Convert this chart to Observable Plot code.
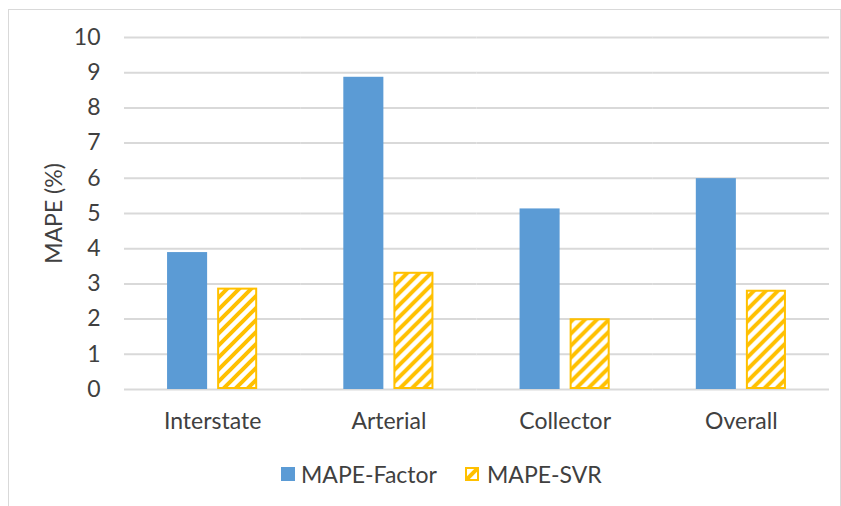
<!DOCTYPE html>
<html>
<head>
<meta charset="utf-8">
<script src="https://cdn.jsdelivr.net/npm/d3@7"></script>
<script src="https://cdn.jsdelivr.net/npm/@observablehq/plot@0.6"></script>
<style>
  body { margin: 0; background: #fff; font-family: Lato, sans-serif; }
  #wrap { position: relative; width: 841px; height: 506px; overflow: hidden; background: #fff; }
  #frame { position: absolute; left: 8px; top: 9px; width: 833px; height: 510px; border: 1px solid #d9d9d9; box-sizing: border-box; }
  #chart { position: absolute; left: 0; top: 0; }
  #legend { position: absolute; left: 281px; top: 460px; display: flex; align-items: center; font-size: 23px; color: #404040; line-height: 28px; white-space: nowrap; }
</style>
</head>
<body>
<svg width="0" height="0" style="position:absolute">
  <defs>
    <pattern id="hatch" patternUnits="userSpaceOnUse" width="12" height="12">
      <rect width="12" height="12" fill="#fff"></rect>
      <path d="M-3,3 L3,-3 M0,12 L12,0 M9,15 L15,9" stroke="#FFC000" stroke-width="4"></path>
    </pattern>
    <pattern id="hatchSmall" patternUnits="userSpaceOnUse" width="14" height="14">
      <rect width="14" height="14" fill="#fff"></rect>
      <path d="M0,14 L14,0" stroke="#FFC000" stroke-width="4"></path>
    </pattern>
  </defs>
</svg>
<div id="wrap">
  <div id="frame"></div>
  <div id="chart"></div>
  <div id="legend"></div>
</div>
<script>
const categories = ["Interstate", "Arterial", "Collector", "Overall"];
const series = ["MAPE-Factor", "MAPE-SVR"];
const factorValues = [3.89, 8.87, 5.13, 5.99];
const svrValues = [2.88, 3.33, 2.01, 2.82];
const yTicks = [0, 1, 2, 3, 4, 5, 6, 7, 8, 9, 10];
const seriesColors = ["#5B9BD5", "#FFC000"];

const data = categories.flatMap((c, i) => [
  {category: c, series: series[0], value: factorValues[i]},
  {category: c, series: series[1], value: svrValues[i]}
]);

const plot = Plot.plot({
  width: 841,
  height: 450,
  marginTop: 37,
  marginBottom: 61,
  marginLeft: 124,
  marginRight: 12,
  style: {fontFamily: "Lato, sans-serif", fontSize: "23px", color: "#404040", background: "transparent"},
  fx: {domain: categories, padding: 0, round: false, label: null, axis: null},
  x: {domain: series, paddingInner: 0.2, paddingOuter: 0.86, round: false, axis: null},
  y: {domain: [0, 10]},
  marks: [
    Plot.ruleY(yTicks, {stroke: "#d9d9d9", strokeWidth: 2}),
    Plot.barY(data.filter(d => d.series === series[0]), {fx: "category", x: "series", y: "value", fill: seriesColors[0]}),
    Plot.barY(data.filter(d => d.series === series[1]), {fx: "category", x: "series", y: "value", fill: "url(#hatch)", stroke: seriesColors[1], strokeWidth: 2, inset: 1}),
    Plot.axisY(yTicks, {tickSize: 0, tickPadding: 24, fontSize: 23, fill: "#404040", label: "MAPE (%)", labelArrow: "none", labelAnchor: "center", labelOffset: 79}),
    Plot.axisFx({anchor: "bottom", tickSize: 0, tickPadding: 23, fontSize: 23, fill: "#404040", label: null})
  ]
});
document.getElementById("chart").appendChild(plot);

const legend = document.getElementById("legend");
series.forEach((s, i) => {
  const item = document.createElement("span");
  item.style.display = "inline-flex";
  item.style.alignItems = "center";
  item.style.marginRight = i === 0 ? "28px" : "0";
  const sw = document.createElementNS("http://www.w3.org/2000/svg", "svg");
  sw.setAttribute("width", 14);
  sw.setAttribute("height", 14);
  sw.style.marginRight = i === 0 ? "6px" : "8px";
  const r = document.createElementNS("http://www.w3.org/2000/svg", "rect");
  if (i === 0) {
    r.setAttribute("x", 0); r.setAttribute("y", 0); r.setAttribute("width", 14); r.setAttribute("height", 14);
    r.setAttribute("fill", seriesColors[0]);
  } else {
    r.setAttribute("x", 1); r.setAttribute("y", 1); r.setAttribute("width", 12); r.setAttribute("height", 12);
    r.setAttribute("fill", "url(#hatchSmall)");
    r.setAttribute("stroke", seriesColors[1]);
    r.setAttribute("stroke-width", 2);
  }
  sw.appendChild(r);
  item.appendChild(sw);
  const t = document.createElement("span");
  t.textContent = s;
  item.appendChild(t);
  legend.appendChild(item);
});
</script>
</body>
</html>
